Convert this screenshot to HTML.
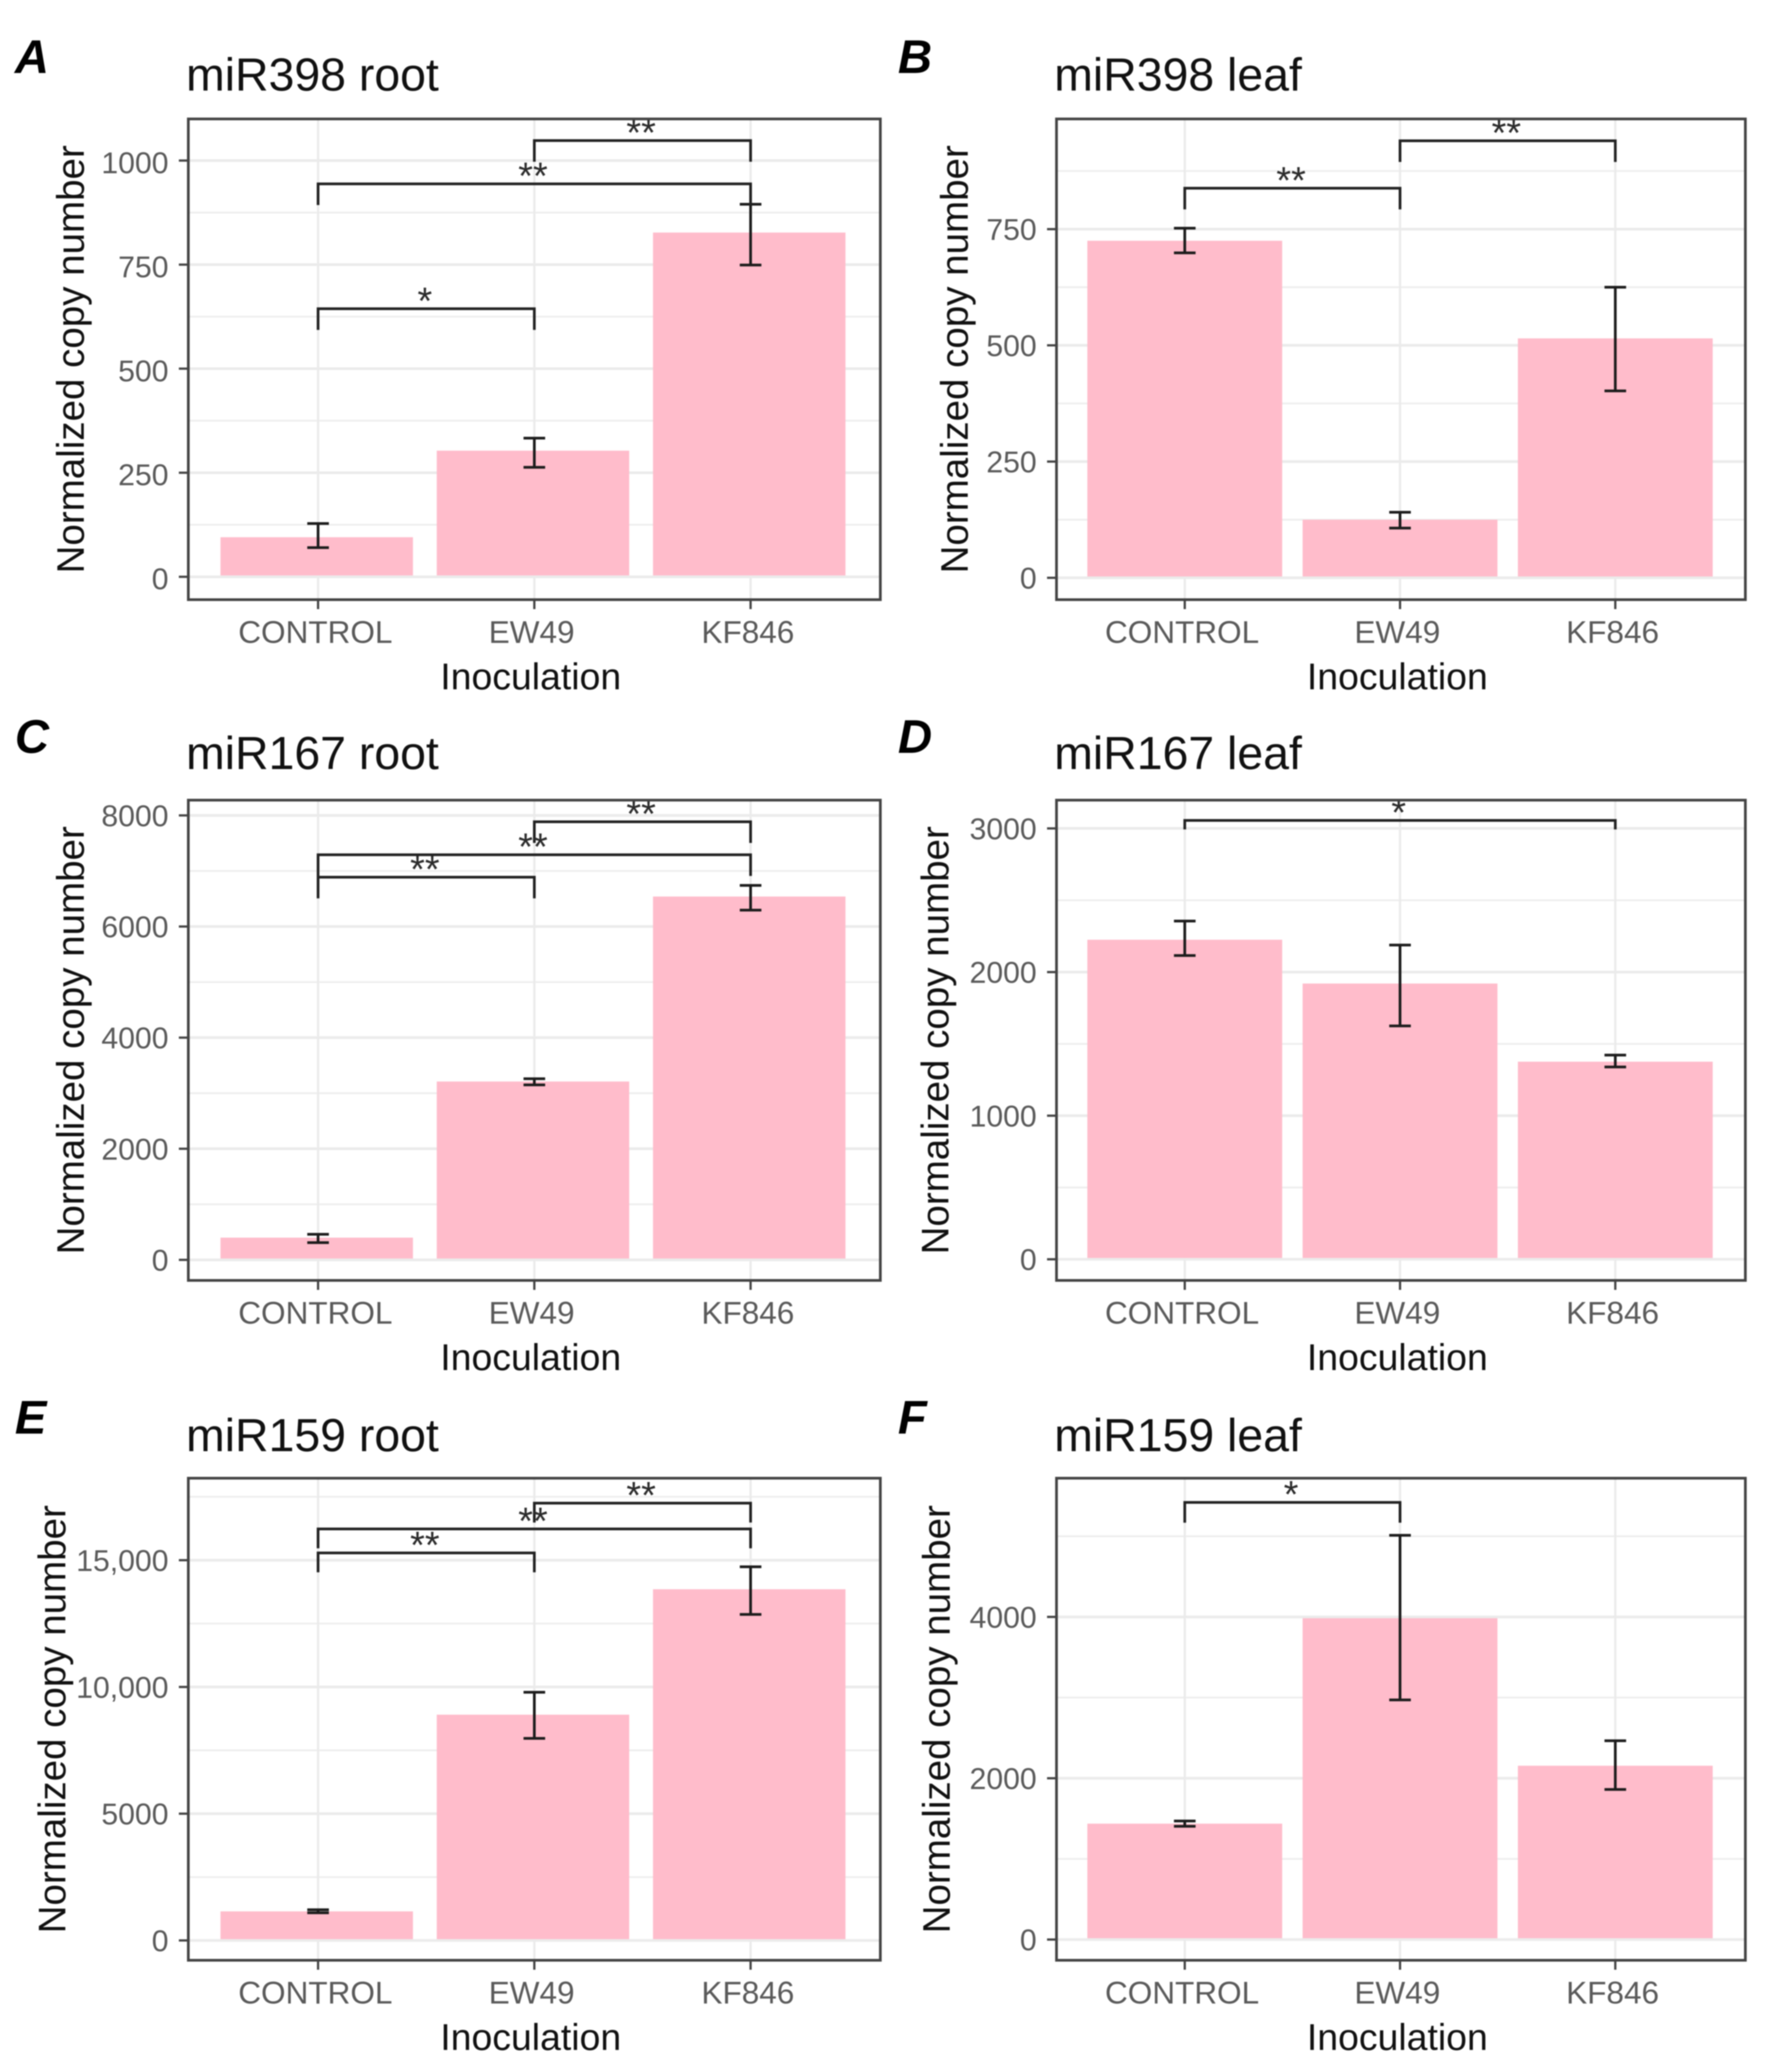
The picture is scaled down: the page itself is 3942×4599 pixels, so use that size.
<!DOCTYPE html>
<html lang="en">
<head>
<meta charset="utf-8">
<title>Normalized copy number by inoculation</title>
<style>
html,body{margin:0;padding:0;background:#fff;}
#figure{display:block;width:3942px;height:4599px;background:#fff;filter:blur(1.3px);font-family:"Liberation Sans",sans-serif;}
</style>
</head>
<body>
<svg id="figure" xmlns="http://www.w3.org/2000/svg" width="3942" height="4599" viewBox="0 0 3942 4599"></svg>
<script>
const categories = ['CONTROL', 'EW49', 'KF846'];
const panelLetters = ['A', 'B', 'C', 'D', 'E', 'F'];
const panelTitles = ['miR398 root', 'miR398 leaf', 'miR167 root', 'miR167 leaf', 'miR159 root', 'miR159 leaf'];

const meansA = [95, 303, 827];
const upperA = [128, 333, 895];
const lowerA = [70, 263, 749];
const domainA = [-55, 1100];
const ticksA = [0, 250, 500, 750, 1000];
const tickLabelsA = ['0', '250', '500', '750', '1000'];
const bracketFromA = [1, 0, 0];
const bracketToA = [2, 2, 1];
const bracketValueA = [1048, 944, 644];
const bracketMarkA = ['**', '**', '*'];

const meansB = [725, 125, 515];
const upperB = [752, 141, 625];
const lowerB = [699, 107, 402];
const domainB = [-47, 987];
const ticksB = [0, 250, 500, 750];
const tickLabelsB = ['0', '250', '500', '750'];
const bracketFromB = [1, 0];
const bracketToB = [2, 1];
const bracketValueB = [940, 838];
const bracketMarkB = ['**', '**'];

const meansC = [400, 3210, 6540];
const upperC = [460, 3260, 6740];
const lowerC = [310, 3150, 6295];
const domainC = [-370, 8275];
const ticksC = [0, 2000, 4000, 6000, 8000];
const tickLabelsC = ['0', '2000', '4000', '6000', '8000'];
const bracketFromC = [1, 0, 0];
const bracketToC = [2, 2, 1];
const bracketValueC = [7886, 7292, 6888];
const bracketMarkC = ['**', '**', '**'];

const meansD = [2225, 1920, 1376];
const upperD = [2355, 2188, 1422];
const lowerD = [2115, 1625, 1339];
const domainD = [-147, 3197];
const ticksD = [0, 1000, 2000, 3000];
const tickLabelsD = ['0', '1000', '2000', '3000'];
const bracketFromD = [0];
const bracketToD = [2];
const bracketValueD = [3056];
const bracketMarkD = ['*'];

const meansE = [1146, 8906, 13854];
const upperE = [1210, 9790, 14740];
const lowerE = [1090, 7970, 12860];
const domainE = [-782, 18234];
const ticksE = [0, 5000, 10000, 15000];
const tickLabelsE = ['0', '5000', '10,000', '15,000'];
const bracketFromE = [1, 0, 0];
const bracketToE = [2, 2, 1];
const bracketValueE = [17250, 16232, 15286];
const bracketMarkE = ['**', '**', '**'];

const meansF = [1437, 3984, 2155];
const upperF = [1470, 5012, 2465];
const lowerF = [1404, 2971, 1861];
const domainF = [-257, 5720];
const ticksF = [0, 2000, 4000];
const tickLabelsF = ['0', '2000', '4000'];
const bracketFromF = [0];
const bracketToF = [1];
const bracketValueF = [5420];
const bracketMarkF = ['*'];

const svg = document.getElementById('figure');
const NS = 'http://www.w3.org/2000/svg';
const columnBox = [[418, 1954], [2345, 3874]];
const rowBox = [[264, 1331], [1776, 2842], [3281, 4351]];
const axisTitleX = [186, 2148, 186, 2105, 145, 2108];
const bracketTips = [47, 47, 47, 20, 43, 45];
const titleRise = [63, 69, 60];
const letterRise = [102, 105, 99];
const tickLabelNudge = [28, 24, 24, 24, 24, 24];

function make(tag, parent, attrs, text) {
  const el = document.createElementNS(NS, tag);
  Object.keys(attrs).forEach(function (k) { el.setAttribute(k, attrs[k]); });
  if (text !== undefined) el.textContent = text;
  parent.appendChild(el);
  return el;
}

function drawPanel(index, means, upper, lower, domain, ticks, tickLabels, brFrom, brTo, brValue, brMark) {
  const col = index % 2;
  const row = Math.floor(index / 2);
  const left = columnBox[col][0], right = columnBox[col][1];
  const top = rowBox[row][0], bottom = rowBox[row][1];
  const unit = (right - left) / 3.2;
  const xScale = function (i) { return left + (i + 0.6) * unit - (col === 0 ? 0 : 2); };
  const yScale = function (v) { return bottom - (v - domain[0]) / (domain[1] - domain[0]) * (bottom - top); };

  const g = make('g', svg, {});
  
  

  const letter = make('text', g, {x: col === 0 ? 33 : 1993, y: top - letterRise[row], 'font-size': 105, 'font-weight': 'bold', 'font-style': 'italic', fill: '#000'}, panelLetters[index]);
  
  

  const title = make('text', g, {x: left - 5, y: top - titleRise[row], 'font-size': 103, fill: '#111'}, panelTitles[index]);
  
  

  const step = ticks[1] - ticks[0];
  for (let v = ticks[0] - step / 2; v < domain[1]; v += step) {
    if (v <= domain[0]) continue;
    const minor = make('line', g, {x1: left, x2: right, y1: yScale(v), y2: yScale(v), stroke: '#eeeeee', 'stroke-width': 4});
    
    
  }
  ticks.forEach(function (t) {
    const major = make('line', g, {x1: left, x2: right, y1: yScale(t), y2: yScale(t), stroke: '#ebebeb', 'stroke-width': 6});
    
    
  });
  categories.forEach(function (c, i) {
    const vgrid = make('line', g, {x1: xScale(i), x2: xScale(i), y1: top, y2: bottom, stroke: '#ebebeb', 'stroke-width': 5});
    
    
  });

  means.forEach(function (m, i) {
    const w = col === 0 ? unit * 0.89 : unit * 0.905;
    const shift = col === 0 ? -3 : 0;
    const bar = make('rect', g, {x: xScale(i) - w / 2 + shift, y: yScale(m), width: w, height: yScale(0) - 3 - yScale(m), fill: '#ffbccb'});
    
    
  });

  means.forEach(function (m, i) {
    const x = xScale(i);
    const eb = make('path', g, {
      d: 'M' + (x - 24) + ' ' + yScale(upper[i]) + 'H' + (x + 24) +
         'M' + x + ' ' + yScale(upper[i]) + 'V' + yScale(lower[i]) +
         'M' + (x - 24) + ' ' + yScale(lower[i]) + 'H' + (x + 24),
      fill: 'none', stroke: '#1c1c1c', 'stroke-width': 6
    });
    
    
  });

  brValue.forEach(function (v, i) {
    const x1 = xScale(brFrom[i]), x2 = xScale(brTo[i]), y = yScale(v), tip = bracketTips[index];
    const br = make('path', g, {d: 'M' + x1 + ' ' + (y + tip) + 'V' + y + 'H' + x2 + 'V' + (y + tip), fill: 'none', stroke: '#222', 'stroke-width': 6});
    
    
    const star = make('text', g, {x: (x1 + x2) / 2 - 3, y: y + 11, 'font-size': 84, 'text-anchor': 'middle', fill: '#2b2b2b'}, brMark[i]);
    
    
  });

  const border = make('rect', g, {x: left, y: top, width: right - left, height: bottom - top, fill: 'none', stroke: '#444', 'stroke-width': 6});
  
  

  ticks.forEach(function (t, i) {
    const mark = make('line', g, {x1: left - 21, x2: left, y1: yScale(t), y2: yScale(t), stroke: '#444', 'stroke-width': 5});
    
    
    const label = make('text', g, {x: left - 44, y: yScale(t) + tickLabelNudge[index], 'font-size': 67, 'text-anchor': 'end', fill: '#5a5a5a'}, tickLabels[i]);
    
    
  });

  categories.forEach(function (c, i) {
    const mark = make('line', g, {x1: xScale(i), x2: xScale(i), y1: bottom, y2: bottom + 21, stroke: '#444', 'stroke-width': 5});
    
    
    const label = make('text', g, {x: xScale(i) - 6, y: bottom + 96, 'font-size': 70, 'text-anchor': 'middle', fill: '#5a5a5a'}, c);
    
    
  });

  const xTitle = make('text', g, {x: (left + right) / 2 - 8, y: bottom + 199, 'font-size': 83, 'text-anchor': 'middle', fill: '#111'}, 'Inoculation');
  
  

  const cy = (top + bottom) / 2;
  const yTitle = make('text', g, {x: 0, y: 0, 'font-size': 85.5, 'text-anchor': 'middle', fill: '#111', transform: 'translate(' + axisTitleX[index] + ' ' + cy + ') rotate(-90)'}, 'Normalized copy number');
  
  
}

drawPanel(0, meansA, upperA, lowerA, domainA, ticksA, tickLabelsA, bracketFromA, bracketToA, bracketValueA, bracketMarkA);
drawPanel(1, meansB, upperB, lowerB, domainB, ticksB, tickLabelsB, bracketFromB, bracketToB, bracketValueB, bracketMarkB);
drawPanel(2, meansC, upperC, lowerC, domainC, ticksC, tickLabelsC, bracketFromC, bracketToC, bracketValueC, bracketMarkC);
drawPanel(3, meansD, upperD, lowerD, domainD, ticksD, tickLabelsD, bracketFromD, bracketToD, bracketValueD, bracketMarkD);
drawPanel(4, meansE, upperE, lowerE, domainE, ticksE, tickLabelsE, bracketFromE, bracketToE, bracketValueE, bracketMarkE);
drawPanel(5, meansF, upperF, lowerF, domainF, ticksF, tickLabelsF, bracketFromF, bracketToF, bracketValueF, bracketMarkF);
</script>
</body>
</html>
